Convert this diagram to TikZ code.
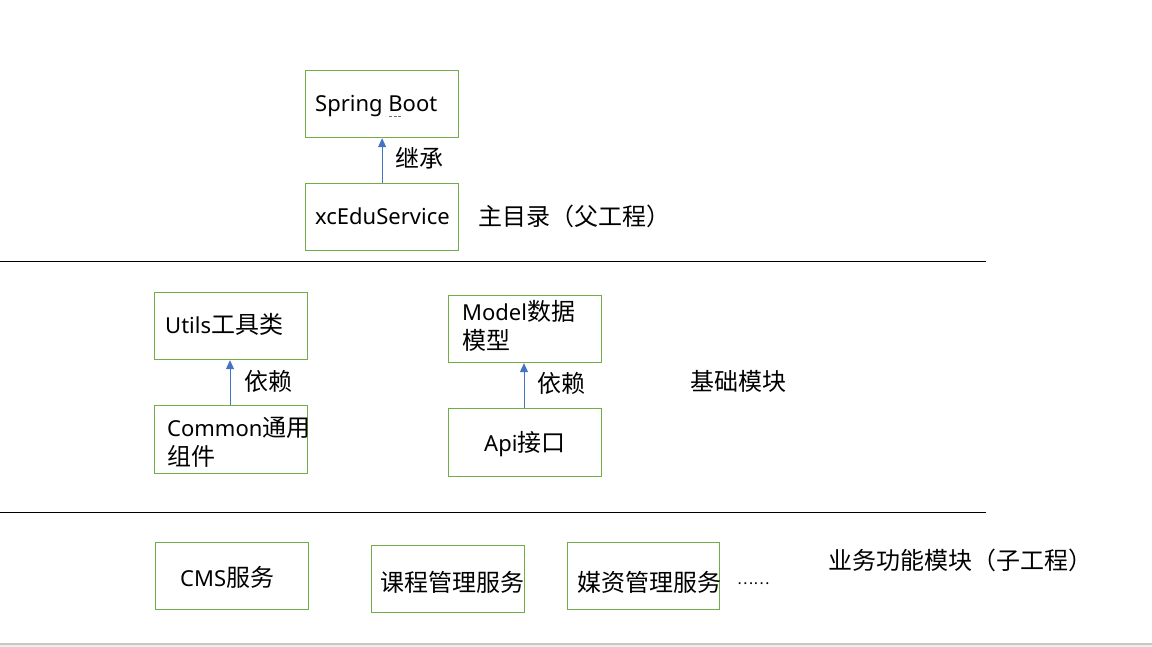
\documentclass[tikz,border=0pt]{standalone}
\usepackage{fontspec}
\setmainfont{Noto Sans}
\newfontfamily\cjk[Scale=1.09]{Noto Sans CJK SC}
\usetikzlibrary{arrows.meta}
\definecolor{boxgreen}{HTML}{70AD47}
\definecolor{arrowblue}{HTML}{4472C4}
\tikzset{
  box/.style={draw=boxgreen, line width=1.2pt, minimum width=153pt, minimum height=67pt, inner sep=0pt, anchor=north west},
  txt/.style={anchor=base west, inner sep=0pt, font=\fontsize{22}{29}\selectfont, text=black},
  dep/.style={draw=arrowblue, line width=1pt, -{Triangle[width=8pt,length=9pt]}},
  sep/.style={draw=black, line width=1pt}
}
\begin{document}
\begin{tikzpicture}[x=1pt,y=-1pt]
\useasboundingbox (0,0) rectangle (1152,647);
\fill[white] (0,0) rectangle (1152,647);
% boxes
\node[box] (sb) at (305,70) {};
\node[box] (xc) at (305,183) {};
\node[box] (ut) at (154,292) {};
\node[box, minimum height=68pt] (co) at (154,405) {};
\node[box] (mo) at (448,295) {};
\node[box, minimum height=68pt] (api) at (448,408) {};
\node[box] (cms) at (155,542) {};
\node[box] (kc) at (371,545) {};
\node[box, minimum width=152pt] (mz) at (567,542) {};
% texts
\node[txt] (tsb) at (315,112) {Spring Boot};
\coordinate (ulA) at (389,116);
\coordinate (ulB) at (402,116);
\draw[black!55, line width=0.9pt, dash pattern=on 3pt off 1.5pt] (ulA) -- (ulB);
\node[txt] (txc) at (315,225) {xcEduService};
\node[txt] (tjc) at (395,168) {\cjk 继承};
\node[txt] (tmain) at (478,226) {\cjk 主目录（父工程）};
\node[txt] (tut) at (165,334) {Utils{\cjk 工具类}};
\node[txt] (tyl1) at (244,390) {\cjk 依赖};
\node[txt, align=left] (tco) at (167,465) {Common{\cjk 通用}\\{\cjk 组件}};
\node[txt, align=left] (tmo) at (462,349) {Model{\cjk 数据}\\{\cjk 模型}};
\node[txt] (tyl2) at (537,392) {\cjk 依赖};
\node[txt] (tapi) at (484,451) {Api{\cjk 接口}};
\node[txt] (tjc2) at (690,390) {\cjk 基础模块};
\node[txt] (tcms) at (180,586) {CMS{\cjk 服务}};
\node[txt] (tkc) at (380,591) {\cjk 课程管理服务};
\node[txt] (tmz) at (577,591) {\cjk 媒资管理服务};
\node[txt, font=\fontsize{14}{16}\selectfont] (tdots) at (737,584) {\cjk ……};
\node[txt] (tyw) at (828,569) {\cjk 业务功能模块（子工程）};
% arrows
\draw[dep] (xc.north) -- (sb.south);
\draw[dep] (co.north -| 230,0) -- (ut.south -| 230,0);
\draw[dep] (api.north -| 524,0) -- (mo.south -| 524,0);
% separators
\coordinate (l1a) at (0,262); \coordinate (l1b) at (986,262);
\coordinate (l2a) at (0,512); \coordinate (l2b) at (986,512);
\draw[sep] (l1a) -- (l1b);
\draw[sep] (l2a) -- (l2b);
% bottom strip
\fill[black!7] (0,644) rectangle (1152,647);
\draw[black!22, line width=1.2pt] (0,644) -- (1152,644);
\end{tikzpicture}
\end{document}
